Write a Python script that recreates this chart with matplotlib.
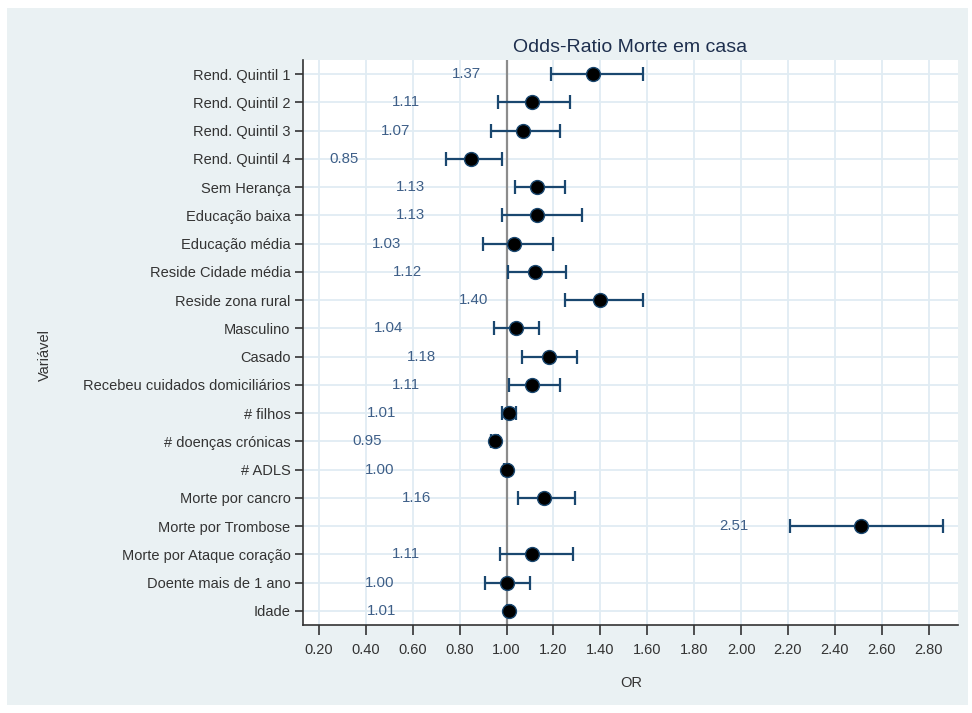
import matplotlib.pyplot as plt
from matplotlib.patches import Rectangle

# dados (de cima para baixo)
variaveis = ['Rend. Quintil 1', 'Rend. Quintil 2', 'Rend. Quintil 3', 'Rend. Quintil 4',
             'Sem Herança', 'Educação baixa', 'Educação média', 'Reside Cidade média',
             'Reside zona rural', 'Masculino', 'Casado', 'Recebeu cuidados domiciliários',
             '# filhos', '# doenças crónicas', '# ADLS', 'Morte por cancro',
             'Morte por Trombose', 'Morte por Ataque coração', 'Doente mais de 1 ano', 'Idade']
odds = [1.37, 1.11, 1.07, 0.85, 1.13, 1.13, 1.03, 1.12, 1.40, 1.04,
        1.18, 1.11, 1.01, 0.95, 1.00, 1.16, 2.51, 1.11, 1.00, 1.01]
ci_low = [1.19, 0.965, 0.935, 0.74, 1.035, 0.98, 0.90, 1.005, 1.25, 0.945,
          1.065, 1.01, 0.98, 0.935, 0.99, 1.05, 2.21, 0.97, 0.91, 1.00]
ci_high = [1.58, 1.27, 1.23, 0.98, 1.25, 1.32, 1.20, 1.255, 1.58, 1.14,
           1.30, 1.23, 1.04, 0.965, 1.01, 1.29, 2.86, 1.285, 1.10, 1.02]
xticks = [0.2, 0.4, 0.6, 0.8, 1.0, 1.2, 1.4, 1.6, 1.8, 2.0, 2.2, 2.4, 2.6, 2.8]

plt.rcParams['font.family'] = ['Liberation Sans', 'DejaVu Sans']

navy = '#1a476f'
bg = '#eaf1f3'
grid = '#e0ecf3'

fig = plt.figure(figsize=(9.72, 7.13), dpi=100, facecolor='white')
fig.patches.append(Rectangle((7 / 972, 8 / 713), 961 / 972, 697 / 713,
                             transform=fig.transFigure, facecolor=bg, edgecolor='none', zorder=-10))
ax = fig.add_axes([303 / 972, (713 - 625) / 713, 655 / 972, 565 / 713])
ax.set_facecolor('white')

n = len(variaveis)
ypos = [n - 1 - i for i in range(n)]

for x in xticks:
    ax.axvline(x, color=grid, lw=1.3, zorder=0)
for y in ypos:
    ax.axhline(y, color=grid, lw=1.3, zorder=0)
ax.axvline(1.0, color='#8c8c8c', lw=1.6, zorder=1)

err = [[o - l for o, l in zip(odds, ci_low)], [h - o for o, h in zip(odds, ci_high)]]
ax.errorbar(odds, ypos, xerr=err, fmt='none', ecolor=navy, elinewidth=1.6,
            capsize=5, capthick=1.6, zorder=2)
ax.plot(odds, ypos, 'o', color='black', markeredgecolor=navy, markeredgewidth=1,
        markersize=10, zorder=3)

for o, y in zip(odds, ypos):
    ax.annotate(f'{o:.2f}', (o, y), xytext=(-81, 0), textcoords='offset points',
                ha='right', va='center', fontsize=10.8, color='#3e5f88')

ax.set_xlim(0.132, 2.925)
ax.set_ylim(-0.5, 19.5)
ax.set_xticks(xticks)
ax.set_xticklabels([f'{x:.2f}' for x in xticks], fontsize=10.5, color='#333333')
ax.set_yticks(ypos)
ax.set_yticklabels(variaveis, fontsize=10.5, color='#333333')
ax.tick_params(axis='x', length=7, width=1.2, color='#333333', pad=6)
ax.tick_params(axis='y', length=6, width=1.2, color='#333333', pad=3)

for s in ['top', 'right']:
    ax.spines[s].set_visible(False)
for s in ['left', 'bottom']:
    ax.spines[s].set_color('#333333')
    ax.spines[s].set_linewidth(1.2)

ax.set_title('Odds-Ratio Morte em casa', fontsize=14, color='#1e2f4e', pad=6)
fig.text(631 / 972, 1 - 683 / 713, 'OR', ha='center', va='center', fontsize=10.5, color='#333333')
fig.text(45 / 972, 1 - 355 / 713, 'Variável', ha='center', va='center', rotation=90,
         fontsize=10.5, color='#333333')

fig.savefig('out.png', dpi=100, facecolor='white')
